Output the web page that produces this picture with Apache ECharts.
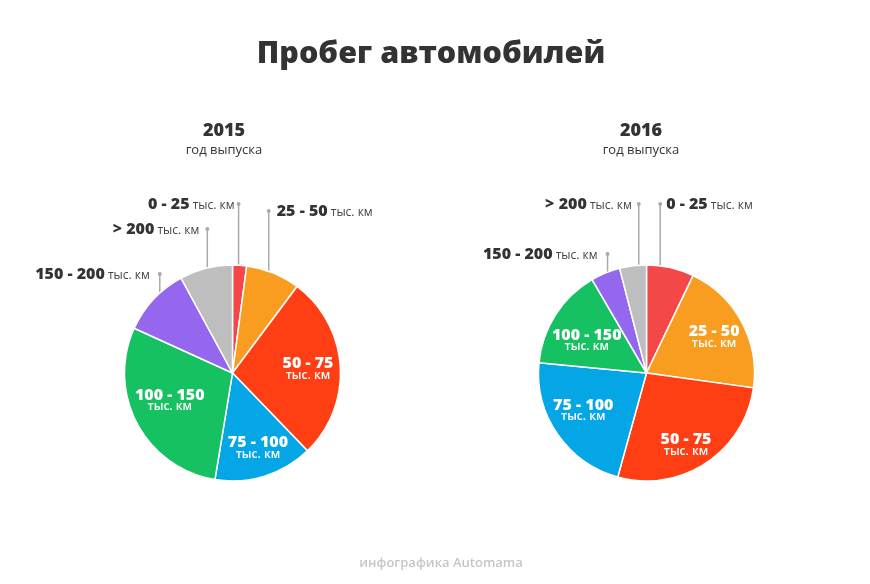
<!DOCTYPE html>
<html><head><meta charset="utf-8">
<script src="https://cdn.jsdelivr.net/npm/echarts@6/dist/echarts.min.js"></script>
<style>html,body{margin:0;padding:0;background:#fff}#c{width:870px;height:584px}</style>
</head><body><div id="c"></div>
<script>
// ---- data ----
const categories = ['0 - 25', '25 - 50', '50 - 75', '75 - 100', '100 - 150', '150 - 200', '> 200'];
const unitLabel = 'тыс. км';
const values2015 = [2.1, 8.1, 27.6, 14.8, 29.2, 10.3, 7.9];
const values2016 = [7.1, 20.1, 27.1, 22.2, 15.1, 4.4, 4.0];
const years = ['2015', '2016'];
const yearCaption = 'год выпуска';
const titleText = 'Пробег автомобилей';
const footerText = 'инфографика Automama';

// ---- styles / layout ----
const colors = ['#F44848', '#F89D20', '#FF3E14', '#04A6E6', '#15C161', '#9567EE', '#BEBEBE'];
const FONT = '"Open Sans", "Noto Sans", sans-serif';
const R = 108;
const pies = [
  {
    values: values2015, center: [232.5, 373], titleX: 224,
    outside: {
      0: {y: 204, side: 'left', anchor: 0.45, gap: 2},
      1: {y: 211, side: 'right', anchor: 0.45, gap: 6},
      5: {y: 274, side: 'left', anchor: 0.55, gap: 8},
      6: {y: 229, side: 'left', anchor: 0.5, gap: 6}
    },
    nudge: {2: [0, 0], 3: [3, 2], 4: [4, -9]}
  },
  {
    values: values2016, center: [646.5, 373], titleX: 641,
    outside: {
      0: {y: 204, side: 'right', anchor: 0.3, gap: 4},
      5: {y: 254, side: 'left', anchor: 0.5, gap: 8},
      6: {y: 204, side: 'left', anchor: 0.7, gap: 5}
    },
    nudge: {1: [1, -1], 2: [-2, 8], 3: [-1, -6], 4: [4, 7.5]}
  }
];

const rich = {
  b: {fontFamily: FONT, fontSize: 16, fontWeight: 800, color: '#333', lineHeight: 20},
  s: {fontFamily: FONT, fontSize: 12, color: '#444', lineHeight: 20, padding: [3, 0, 0, 0]},
  d: {width: 4, height: 4, borderRadius: 2, backgroundColor: '#AAAAAA'},
  g2: {width: 2, height: 4}, g4: {width: 4, height: 4}, g5: {width: 5, height: 4},
  g6: {width: 6, height: 4}, g8: {width: 8, height: 4},
  bi: {fontFamily: FONT, fontSize: 16, fontWeight: 800, color: '#fff', lineHeight: 14},
  si: {fontFamily: FONT, fontSize: 12, fontWeight: 600, color: '#fff', lineHeight: 9}
};

function makeSeries(p, si) {
  const total = p.values.reduce((a, b) => a + b, 0);
  const starts = [];
  let acc = 0;
  p.values.forEach(v => { starts.push(acc); acc += v; });
  const data = categories.map((name, i) => {
    const o = p.outside[i];
    if (o) {
      const g = '{g' + o.gap + '|}';
      const fmt = o.side === 'left'
        ? '{b|' + name + '}{s| ' + unitLabel + '}' + g + '{d|}'
        : '{d|}' + g + '{b|' + name + '}{s| ' + unitLabel + '}';
      return {name, value: p.values[i], label: {position: 'outside', formatter: fmt}, labelLine: {show: true}};
    }
    return {name, value: p.values[i],
      label: {position: 'inside', formatter: '{bi|' + name + '}\n{si|' + unitLabel + '}'},
      labelLine: {show: false}};
  });
  return {
    type: 'pie',
    name: years[si],
    center: p.center,
    radius: R,
    startAngle: 90,
    clockwise: true,
    avoidLabelOverlap: false,
    animation: false,
    itemStyle: {borderColor: '#fff', borderWidth: 1.5},
    label: {rich: rich, fontFamily: FONT},
    labelLine: {lineStyle: {color: '#AAAAAA', width: 1.5}},
    emphasis: {disabled: true},
    data: data,
    labelLayout: function (params) {
      const i = params.dataIndex;
      const cx = p.center[0], cy = p.center[1];
      const a0 = starts[i] / total * 2 * Math.PI;
      const a1 = (starts[i] + p.values[i]) / total * 2 * Math.PI;
      const o = p.outside[i];
      if (o) {
        const a = a0 + (a1 - a0) * o.anchor;
        const sx = cx + 0.95 * R * Math.sin(a), sy = cy - 0.95 * R * Math.cos(a);
        return {
          x: sx + (o.side === 'left' ? 2 : -2), y: o.y,
          align: o.side === 'left' ? 'right' : 'left', verticalAlign: 'middle',
          labelLinePoints: [[sx, sy], [sx, (sy + o.y) / 2], [sx, o.y]]
        };
      }
      const a = (a0 + a1) / 2, rr = 0.7 * R;
      const n = p.nudge[i] || [0, 0];
      return {
        x: cx + rr * Math.sin(a) + n[0], y: cy - rr * Math.cos(a) + n[1],
        align: 'center', verticalAlign: 'middle'
      };
    }
  };
}

const titles = [
  {text: titleText, left: 431, top: 39, textAlign: 'center', padding: 0,
   textStyle: {fontFamily: FONT, fontSize: 30.5, fontWeight: 800, color: '#333'}},
  {text: footerText, left: 441, top: 556.5, textAlign: 'center', padding: 0,
   textStyle: {fontFamily: FONT, fontSize: 13, fontWeight: 600, color: '#C6C6C6'}}
];
pies.forEach((p, i) => {
  titles.push({text: years[i], left: p.titleX, top: 122, textAlign: 'center', padding: 0,
    textStyle: {fontFamily: FONT, fontSize: 18, fontWeight: 800, color: '#333'}});
  titles.push({text: yearCaption, left: p.titleX, top: 143.5, textAlign: 'center', padding: 0,
    textStyle: {fontFamily: FONT, fontSize: 13, fontWeight: 400, color: '#333'}});
});

const chart = echarts.init(document.getElementById('c'), null, {renderer: 'canvas'});
chart.setOption({
  backgroundColor: '#fff',
  animation: false,
  color: colors,
  title: titles,
  series: pies.map(makeSeries)
});
</script>
</body></html>
